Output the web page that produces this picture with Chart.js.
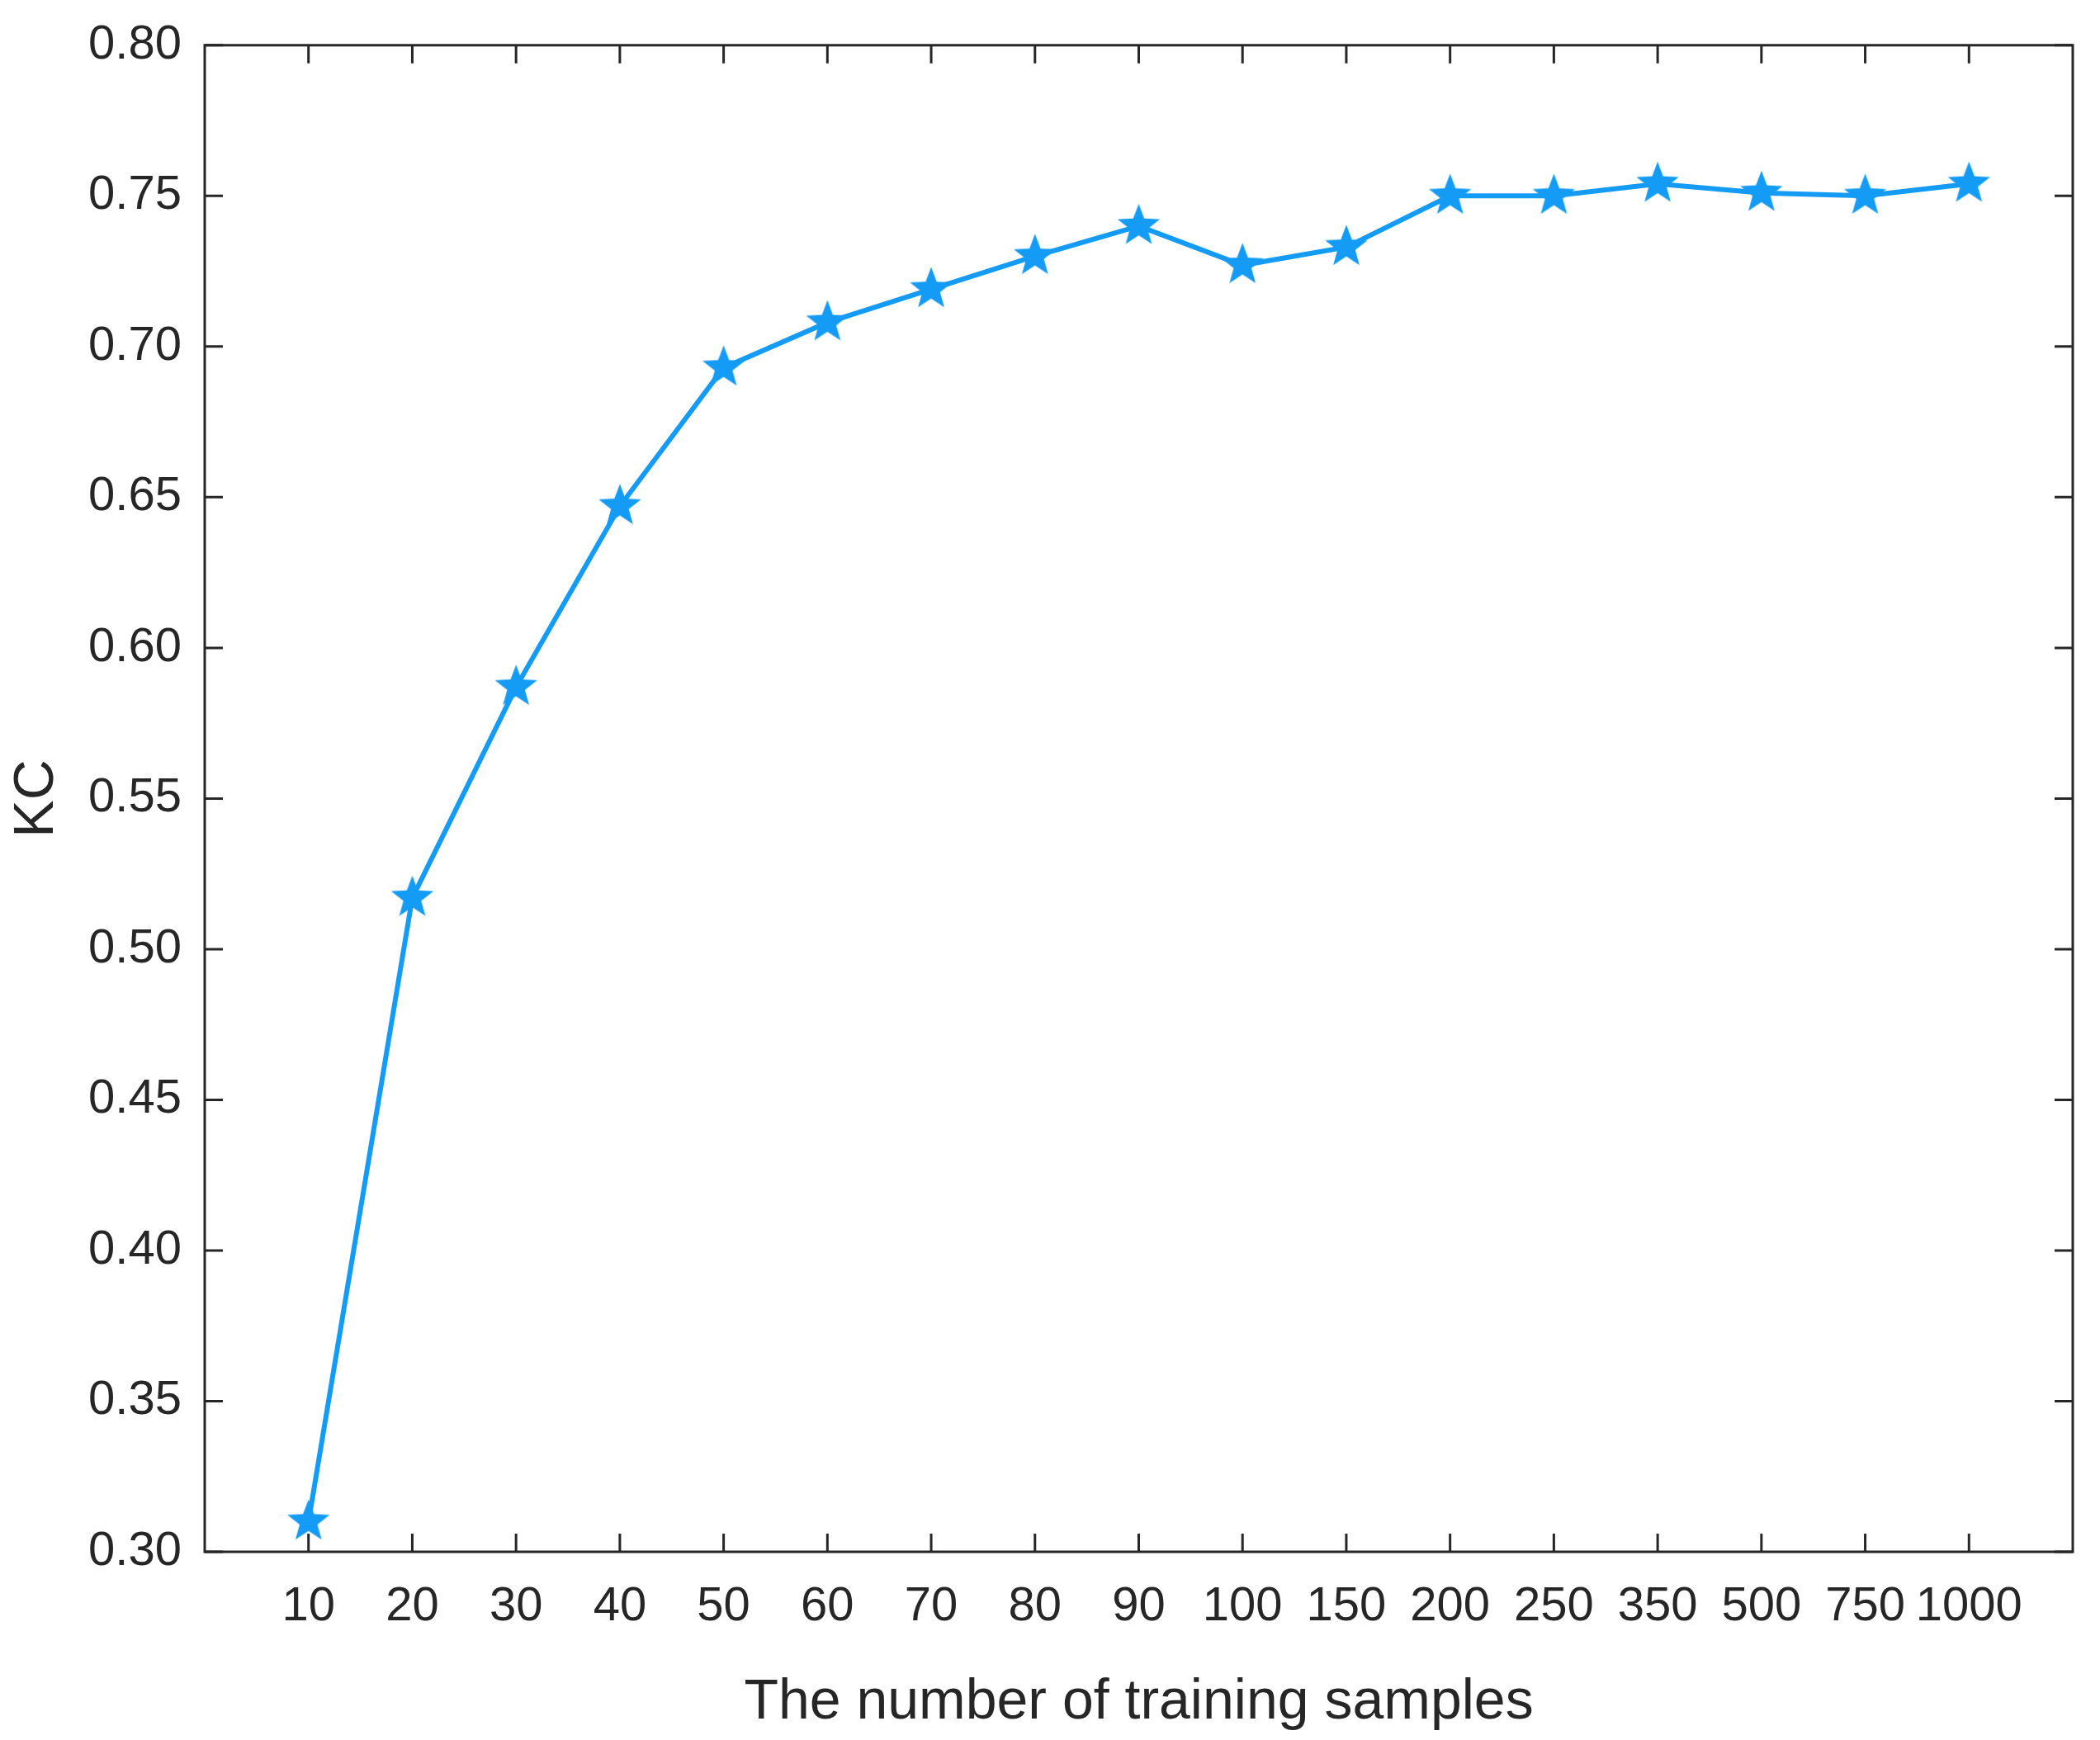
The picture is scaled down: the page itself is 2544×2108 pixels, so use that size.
<!DOCTYPE html>
<html><head><meta charset="utf-8">
<script src="https://cdn.jsdelivr.net/npm/chart.js@4"></script>
<style>html,body{margin:0;padding:0;background:#fff}</style>
</head><body>
<canvas id="c" width="2544" height="2108" style="width:2544px;height:2108px"></canvas>
<script>
const categories = ["10","20","30","40","50","60","70","80","90","100","150","200","250","350","500","750","1000"];
const kcValues = [0.310,0.517,0.587,0.647,0.693,0.708,0.719,0.730,0.740,0.727,0.733,0.750,0.750,0.754,0.751,0.750,0.754];
const yTicks = [0.30,0.35,0.40,0.45,0.50,0.55,0.60,0.65,0.70,0.75,0.80];

const color = 'rgb(20,155,245)';
function makeStar(r){
  const c=document.createElement('canvas'); c.width=c.height=r*2+4;
  const g=c.getContext('2d'); g.beginPath();
  for(let i=0;i<10;i++){const a=-Math.PI/2+i*Math.PI/5; const rr=i%2?r*0.42:r;
    g.lineTo(r+2+rr*Math.cos(a), r+2+rr*Math.sin(a));}
  g.closePath(); g.fillStyle=color; g.fill(); return c;
}
const star=makeStar(27);

const frame={id:'frame',afterDraw(ch){
  const {ctx,chartArea:a,scales}=ch; ctx.save(); ctx.strokeStyle='#262626'; ctx.lineWidth=3;
  ctx.strokeRect(a.left,a.top,a.right-a.left,a.bottom-a.top);
  const L=22; ctx.beginPath();
  categories.forEach((_,i)=>{const x=scales.x.getPixelForValue(i);
    ctx.moveTo(x,a.bottom);ctx.lineTo(x,a.bottom-L);ctx.moveTo(x,a.top);ctx.lineTo(x,a.top+L);});
  yTicks.forEach(v=>{const y=scales.y.getPixelForValue(v);
    ctx.moveTo(a.left,y);ctx.lineTo(a.left+L,y);ctx.moveTo(a.right,y);ctx.lineTo(a.right-L,y);});
  ctx.stroke(); ctx.restore();
}};

new Chart(document.getElementById('c'),{
  type:'line',
  data:{datasets:[{data:kcValues.map((v,i)=>({x:i,y:v})),borderColor:color,borderWidth:6,
    pointStyle:star,pointRadius:27,tension:0}]},
  options:{responsive:false,animation:false,devicePixelRatio:1,
    layout:{padding:{top:36,right:28,left:0,bottom:0}},
    plugins:{legend:{display:false},tooltip:{enabled:false}},
    scales:{
      x:{type:'linear',min:-1,max:17,
        afterBuildTicks(s){s.ticks=categories.map((_,i)=>({value:i}));},
        afterFit(s){s.height=228;},
        grid:{display:false},border:{display:false},
        ticks:{autoSkip:false,maxRotation:0,padding:24,color:'#262626',font:{family:'Liberation Sans',size:58},
          callback:v=>categories[v]??''},
        title:{display:true,text:'The number of training samples',color:'#262626',font:{family:'Liberation Sans',size:68},padding:{top:4}}},
      y:{min:0.30,max:0.80,
        afterBuildTicks(s){s.ticks=yTicks.map(v=>({value:v}));},
        afterFit(s){s.width=248;},
        grid:{display:false},border:{display:false},
        ticks:{padding:20,color:'#262626',font:{family:'Liberation Sans',size:58},callback:v=>v.toFixed(2)},
        title:{display:true,text:'KC',color:'#262626',font:{family:'Liberation Sans',size:68},padding:{bottom:10}}}
    }},
  plugins:[frame]
});
</script></body></html>
